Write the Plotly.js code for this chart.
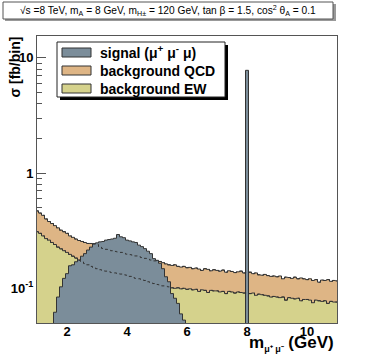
<!DOCTYPE html>
<html>
<head>
<meta charset="utf-8">
<script src="https://cdn.plot.ly/plotly-3.0.1.min.js"></script>
<style>
body { margin: 0; padding: 0; background: #fff; }
#plot { width: 374px; height: 359px; }
</style>
</head>
<body>
<div id="plot"></div>
<script>
// histogram binning (GeV): first bin centre and bin width
var binStart = 1.0
var binWidth = 0.1

// sigma [fb/bin] per bin, bins centred at 1.0, 1.1, ... 11.0
var ew = [
  0.310, 0.300, 0.285, 0.270, 0.262, 0.250, 0.240, 0.228, 0.220, 0.212,
  0.205, 0.197, 0.190, 0.183, 0.175, 0.170, 0.164, 0.160, 0.155, 0.151,
  0.148, 0.145, 0.143, 0.141, 0.139, 0.137, 0.136, 0.134, 0.133, 0.131,
  0.130, 0.127, 0.124, 0.122, 0.121, 0.119, 0.117, 0.114, 0.112, 0.110,
  0.108, 0.107, 0.105, 0.104, 0.103, 0.101, 0.100, 0.101, 0.099, 0.100,
  0.098, 0.099, 0.097, 0.098, 0.094, 0.097, 0.096, 0.092, 0.096, 0.095,
  0.095, 0.093, 0.094, 0.090, 0.094, 0.093, 0.091, 0.093, 0.092, 0.091,
  0.091, 0.090, 0.091, 0.087, 0.089, 0.088, 0.087, 0.086, 0.084, 0.085,
  0.084, 0.083, 0.084, 0.079, 0.083, 0.082, 0.081, 0.082, 0.078, 0.080,
  0.080, 0.079, 0.075, 0.079, 0.078, 0.077, 0.078, 0.074, 0.077, 0.076,
  0.076
]
var qcd = [
  0.160, 0.150, 0.145, 0.130, 0.118, 0.115, 0.110, 0.107, 0.100, 0.098,
  0.095, 0.088, 0.087, 0.085, 0.085, 0.085, 0.086, 0.085, 0.090, 0.092,
  0.092, 0.083, 0.079, 0.077, 0.075, 0.075, 0.073, 0.073, 0.072, 0.070,
  0.068, 0.069, 0.070, 0.069, 0.067, 0.066, 0.065, 0.065, 0.064, 0.063,
  0.065, 0.064, 0.062, 0.059, 0.057, 0.057, 0.060, 0.054, 0.054, 0.055,
  0.053, 0.053, 0.051, 0.052, 0.053, 0.046, 0.052, 0.054, 0.046, 0.050,
  0.048, 0.048, 0.050, 0.048, 0.048, 0.047, 0.046, 0.046, 0.049, 0.045,
  0.046, 0.048, 0.043, 0.049, 0.042, 0.042, 0.045, 0.043, 0.043, 0.043,
  0.042, 0.045, 0.037, 0.046, 0.041, 0.040, 0.044, 0.039, 0.045, 0.041,
  0.039, 0.042, 0.042, 0.040, 0.035, 0.041, 0.039, 0.045, 0.038, 0.041,
  0.040
]
var signal = [
  0, 0, 0, 0, 0, 0.045, 0.062, 0.084, 0.103, 0.122,
  0.134, 0.157, 0.160, 0.170, 0.176, 0.190, 0.200, 0.215, 0.228, 0.243,
  0.248, 0.253, 0.255, 0.262, 0.265, 0.268, 0.272, 0.293, 0.280, 0.275,
  0.262, 0.258, 0.253, 0.250, 0.237, 0.230, 0.221, 0.210, 0.200, 0.181,
  0.175, 0.165, 0.148, 0.126, 0.114, 0.090, 0.082, 0.074, 0.060, 0.053,
  0.040, 0, 0, 0, 0, 0, 0, 0, 0, 0,
  0, 0, 0, 0, 0, 0, 0, 0, 0, 0,
  7.8, 0, 0, 0, 0, 0, 0, 0, 0, 0,
  0, 0, 0, 0, 0, 0, 0, 0, 0, 0,
  0, 0, 0, 0, 0, 0, 0, 0, 0, 0,
  0
]

var legendNames = ["signal (\u03bc<sup>+</sup> \u03bc<sup>-</sup> \u03bc)", "background QCD", "background EW"]

var colSignal = "#7b8d9a"
var colQCD = "#deb585"
var colEW = "#d5d28c"
var colLine = "#333333"
var font = "Liberation Sans, Arial, sans-serif"

// turn bin contents into a step outline (left edges + closing edge)
var steps = function (vals) {
  var xs = [], ys = []
  for (var i = 0; i < vals.length; i++) {
    var v = vals[i] > 0 ? vals[i] : 1e-4   // empty bins drop below the axis
    xs.push(binStart + (i - 0.5) * binWidth)
    ys.push(v)
  }
  xs.push(binStart + (vals.length - 0.5) * binWidth)
  ys.push(ys[ys.length - 1])
  return { x: xs, y: ys }
}

var total = ew.map(function (v, i) { return v + qcd[i] })
var sEW = steps(ew)
var sTot = steps(total)
var sSig = steps(signal)

var data = [{
  x: sEW.x, y: sEW.y, name: legendNames[2],
  mode: "lines", type: "scatter", fill: "tozeroy", fillcolor: colEW,
  line: { shape: "hv", color: colLine, width: 1 }
}, {
  x: sTot.x, y: sTot.y, name: legendNames[1],
  mode: "lines", type: "scatter", fill: "tonexty", fillcolor: colQCD,
  line: { shape: "hv", color: colLine, width: 1 }
}, {
  x: sSig.x, y: sSig.y, name: legendNames[0],
  mode: "lines", type: "scatter", fill: "tozeroy", fillcolor: colSignal,
  line: { shape: "hv", color: colLine, width: 1 }
}, {
  x: sEW.x, y: sEW.y, mode: "lines", type: "scatter",
  line: { shape: "hv", color: colLine, width: 1, dash: "dot" }
}, {
  x: sTot.x, y: sTot.y, mode: "lines", type: "scatter",
  line: { shape: "hv", color: colLine, width: 1, dash: "dot" }
}]

// pixel -> paper helpers for the decorations outside the frame
var L = 37, R = 37, T = 36, B = 36, W = 374, H = 359
var px = function (x) { return (x - L) / (W - L - R) }
var py = function (y) { return (H - B - y) / (H - T - B) }

var minors = []
;[0.01, 0.1, 1].forEach(function (d) {
  for (var k = 2; k <= 9; k++) minors.push(k * d)
})

var rect = function (x0, y0, x1, y1, fill, lineCol) {
  return {
    type: "rect", xref: "paper", yref: "paper", layer: "above",
    x0: px(x0), x1: px(x1), y0: py(y1), y1: py(y0),
    fillcolor: fill, line: lineCol ? { color: lineCol, width: 1 } : { width: 0 }
  }
}

// hand-drawn ROOT style legend box
var swatchCols = [colSignal, colQCD, colEW]
var legendShapes = [rect(60, 45, 228, 100, "#000"), rect(57, 42, 225, 97, "#fff", "#222")]
var legendTexts = []
for (var i = 0; i < 3; i++) {
  var yc = 52.5 + i * 18
  legendShapes.push(rect(62, yc - 4.5, 91, yc + 4.5, swatchCols[i], "#333"))
  legendTexts.push({
    xref: "paper", yref: "paper", x: px(98), y: py(yc), showarrow: false,
    xanchor: "left", yanchor: "middle", text: legendNames[i],
    font: { family: font, size: 14, weight: "bold" }
  })
}

var layout = {
  width: W, height: H,
  margin: { l: L, r: R, t: T, b: B },
  paper_bgcolor: "#fff", plot_bgcolor: "#fff",
  font: { family: font, color: "#000" },
  showlegend: false,
  xaxis: {
    range: [1, 11], tickvals: [2, 4, 6, 8, 10], ticks: "",
    showgrid: false, zeroline: false, showline: true, mirror: true,
    linecolor: "#555", linewidth: 1, layer: "below traces",
    ticklabelstandoff: -4,
    tickfont: { family: font, size: 13, weight: "bold" }
  },
  yaxis: {
    type: "log", range: [Math.log10(0.05), 1.19],
    tickvals: [0.1, 1, 10], ticktext: ["10<sup>-1</sup>", "1", "10"],
    ticks: "inside", ticklen: 9, tickcolor: "#555",
    minor: { tickmode: "array", tickvals: minors, ticks: "inside", ticklen: 5, tickcolor: "#555", showgrid: false },
    showgrid: false, zeroline: false, showline: true, mirror: true,
    linecolor: "#555", linewidth: 1, layer: "below traces",
    tickfont: { family: font, size: 13, weight: "bold" }
  },
  shapes: [
    // title box with shadow
    rect(5, 4, 336, 21, "#999"),
    rect(3, 2, 333, 19, "#fff", "#555")
  ].concat(legendShapes),
  annotations: [{
    xref: "paper", yref: "paper", x: px(168), y: py(11), showarrow: false,
    xanchor: "center", yanchor: "middle",
    text: "\u221as =8 TeV, m<sub>A</sub> = 8 GeV, m<sub>H\u00b1</sub> = 120 GeV, tan \u03b2 = 1.5, cos<sup>2</sup> \u03b8<sub>A</sub> = 0.1",
    font: { family: font, size: 10.2 }
  }, {
    xref: "paper", yref: "paper", x: px(14), y: py(35), showarrow: false,
    xanchor: "center", yanchor: "top", textangle: -90,
    text: "\u03c3 [fb/bin]", font: { family: font, size: 14, weight: "bold" }
  }, {
    xref: "paper", yref: "paper", x: px(247), y: py(356), showarrow: false,
    xanchor: "left", yanchor: "bottom",
    text: "m<sub><span style=\"font-size:9px\">\u03bc\u207a \u03bc\u207b</span></sub> (GeV)",
    font: { family: font, size: 17, weight: "bold" }
  }].concat(legendTexts)
}

Plotly.newPlot("plot", data, layout, { displayModeBar: false, staticPlot: true })
</script>
</body>
</html>
